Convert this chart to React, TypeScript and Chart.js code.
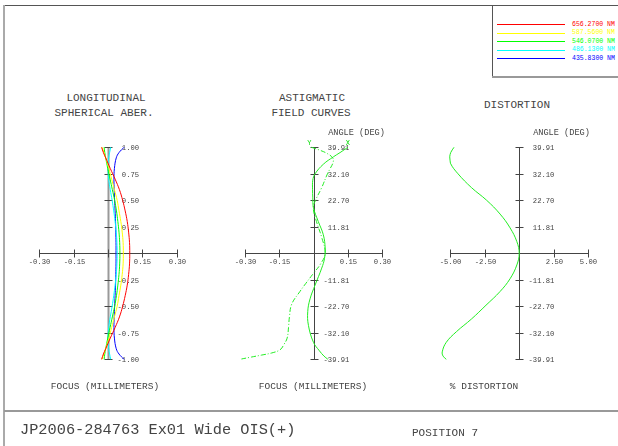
import React, { useEffect, useRef } from "react";
import { Chart, registerables } from "chart.js";
Chart.register(...registerables);

// ---------- data ----------
const wavelengthLabels = ["656.2700 NM", "587.5600 NM", "546.0700 NM", "486.1300 NM", "435.8300 NM"];
const wavelengthColors = ["#ff0000", "#ffff00", "#00ff00", "#00ffff", "#0000ff"];

// Longitudinal spherical aberration (relative pupil zone -> focus shift, mm)
const pupilZones = [0, 0.1, 0.2, 0.3, 0.4, 0.5, 0.6, 0.7, 0.8, 0.9, 0.95, 1.0];
const lsaRed = [0.095, 0.094, 0.09, 0.084, 0.075, 0.064, 0.05, 0.031, 0.01, -0.01, -0.02, -0.028];
const lsaYellow = [0.067, 0.066, 0.062, 0.056, 0.048, 0.04, 0.028, 0.016, 0.004, -0.01, -0.018, -0.025];
const lsaGreen = [0.052, 0.051, 0.048, 0.043, 0.037, 0.029, 0.019, 0.009, -0.001, -0.01, -0.014, -0.017];
const lsaCyan = [0.04, 0.039, 0.036, 0.031, 0.025, 0.018, 0.01, 0.003, 0.0, 0.003, 0.007, 0.012];
const lsaBlue = [0.035, 0.035, 0.034, 0.033, 0.031, 0.029, 0.027, 0.026, 0.028, 0.036, 0.048, 0.07];

// Astigmatic field curves (relative field -> focus, mm)
const fieldX = [1.0, 0.95, 0.91, 0.84, 0.75, 0.69, 0.6, 0.53, 0.43, 0.3, 0.175, 0.05, -0.05, -0.14, -0.3, -0.43, -0.55, -0.68, -0.84, -0.92, -0.97, -1.0];
const curveX = [0.149, 0.115, 0.086, 0.042, 0.006, -0.004, -0.005, -0.004, -0.001, 0.02, 0.042, 0.05, 0.047, 0.035, 0.006, -0.016, -0.026, -0.023, -0.001, 0.025, 0.045, 0.062];
const fieldY = [1.0, 0.97, 0.94, 0.9, 0.86, 0.8, 0.75, 0.62, 0.5, 0.43, 0.3, 0.15, 0.0, -0.1, -0.2, -0.3, -0.36, -0.48, -0.6, -0.7, -0.8, -0.86, -0.91, -0.94, -0.96, -0.98, -1.0];
const curveY = [-0.01, 0.03, 0.06, 0.083, 0.085, 0.072, 0.06, 0.035, 0.008, -0.002, 0.012, 0.035, 0.05, 0.03, -0.005, -0.04, -0.06, -0.096, -0.106, -0.11, -0.116, -0.13, -0.147, -0.183, -0.227, -0.275, -0.322];

// Distortion (relative field -> % distortion)
const distFields = [1.0, 0.95, 0.91, 0.85, 0.75, 0.62, 0.5, 0.37, 0.24, 0.11, 0, -0.11, -0.24, -0.36, -0.49, -0.62, -0.74, -0.84, -0.93, -0.97, -1.0];
const distValues = [-4.71, -4.95, -5.02, -4.97, -4.42, -3.45, -2.35, -1.38, -0.66, -0.17, 0, -0.17, -0.66, -1.38, -2.4, -3.45, -4.54, -5.27, -5.56, -5.5, -5.27];

// ticks
const focusTicks = [-0.3, -0.15, 0, 0.15, 0.3];
const focusTickLabels = ["-0.30", "-0.15", "", "0.15", "0.30"];
const distTicks = [-5, -2.5, 0, 2.5, 5];
const distTickLabels = ["-5.00", "-2.50", "", "2.50", "5.00"];
const relTicks = [1, 0.75, 0.5, 0.25, -0.25, -0.5, -0.75, -1];
const pupilTickLabels = ["1.00", "0.75", "0.50", "0.25", "-0.25", "-0.50", "-0.75", "-1.00"];
const angleTickLabels = ["39.91", "32.10", "22.70", "11.81", "-11.81", "-22.70", "-32.10", "-39.91"];

const MONO = '"Liberation Mono", "DejaVu Sans Mono", monospace';
const TXT = "#444";

// ---------- plugin: zemax style crossing axes ----------
const zAxesPlugin = {
  id: "zaxes",
  beforeDatasetsDraw(chart: any, _a: any, opts: any) {
    const ctx = chart.ctx;
    const xs = chart.scales.x;
    const ys = chart.scales.y;
    const x0 = Math.round(xs.getPixelForValue(0)) + 0.5;
    const y0 = Math.round(ys.getPixelForValue(0)) + 0.5;
    ctx.save();
    ctx.strokeStyle = "#444";
    ctx.lineWidth = 1;
    const xl = Math.round(xs.getPixelForValue(opts.xTicks[0])) + 0.5;
    const xr = Math.round(xs.getPixelForValue(opts.xTicks[opts.xTicks.length - 1])) + 0.5;
    ctx.beginPath();
    ctx.moveTo(xl, y0);
    ctx.lineTo(xr, y0);
    ctx.stroke();
    const yt = Math.round(ys.getPixelForValue(1)) + 0.5;
    const yb = Math.round(ys.getPixelForValue(-1)) + 0.5;
    ctx.save();
    ctx.strokeStyle = opts.vColor || "#444";
    ctx.lineWidth = opts.vWidth || 1;
    ctx.beginPath();
    ctx.moveTo(x0, yt);
    ctx.lineTo(x0, yb);
    ctx.stroke();
    ctx.restore();
    ctx.font = "7.2px " + MONO;
    ctx.fillStyle = TXT;
    ctx.textAlign = "center";
    ctx.textBaseline = "middle";
    opts.xTicks.forEach((t: number, i: number) => {
      const px = Math.round(xs.getPixelForValue(t)) + 0.5;
      ctx.beginPath();
      ctx.moveTo(px, y0 - 4);
      ctx.lineTo(px, y0 + 4);
      ctx.stroke();
      if (opts.xLabels[i]) ctx.fillText(opts.xLabels[i], px, y0 + 9);
    });
    ctx.textAlign = "left";
    opts.yTicks.forEach((t: number, i: number) => {
      const py = Math.round(ys.getPixelForValue(t)) + 0.5;
      ctx.beginPath();
      ctx.moveTo(x0 - 4, py);
      ctx.lineTo(x0 + 4, py);
      ctx.stroke();
      const lab: string = opts.yLabels[i];
      const txt = lab.startsWith("-") ? lab : " " + lab;
      ctx.fillText(txt, x0 + 9, py + 0.5);
    });
    if (opts.yTitle) {
      ctx.font = "8.6px " + MONO;
      ctx.textAlign = "center";
      ctx.fillText(opts.yTitle, x0 + 42, yt - 15);
    }
    if (opts.curveTags) {
      ctx.font = "7px " + MONO;
      ctx.fillStyle = "#00dd00";
      opts.curveTags.forEach((tg: any) => {
        ctx.fillText(tg.text, xs.getPixelForValue(tg.x) + tg.dx, ys.getPixelForValue(tg.y) - 4);
      });
    }
    ctx.restore();
  },
};

function pts(ys: number[], xs: number[]) {
  return ys.map((y, i) => ({ x: xs[i], y }));
}
function mirrored(zones: number[], vals: number[]) {
  const out: { x: number; y: number }[] = [];
  for (let i = zones.length - 1; i >= 0; i--) out.push({ x: vals[i], y: -zones[i] });
  for (let i = 1; i < zones.length; i++) out.push({ x: vals[i], y: zones[i] });
  return out;
}

const W = 618;
const H = 446;

function makeConfig(area: { l: number; r: number; t: number; b: number }, xmin: number, xmax: number, datasets: any[], axes: any) {
  return {
    type: "scatter" as const,
    data: { datasets },
    options: {
      responsive: false,
      animation: false as const,
      devicePixelRatio: 1,
      events: [],
      layout: { padding: { left: area.l, right: W - area.r, top: area.t, bottom: H - area.b } },
      scales: {
        x: { type: "linear" as const, min: xmin, max: xmax, display: false },
        y: { type: "linear" as const, min: -1, max: 1, display: false },
      },
      elements: { point: { radius: 0 }, line: { borderWidth: 1, tension: 0.4 } },
      plugins: { legend: { display: false }, tooltip: { enabled: false }, zaxes: axes },
    },
    plugins: [zAxesPlugin],
  };
}

function ChartCanvas({ config }: { config: any }) {
  const ref = useRef<HTMLCanvasElement>(null);
  useEffect(() => {
    const c = new Chart(ref.current as HTMLCanvasElement, config);
    return () => c.destroy();
  }, []);
  return <canvas ref={ref} width={W} height={H} style={{ position: "absolute", left: 0, top: 0, width: W, height: H }} />;
}

const lsaSeries = [lsaRed, lsaYellow, lsaGreen, lsaCyan, lsaBlue];

const cfg1 = makeConfig(
  { l: 39.3, r: 176.7, t: 147.3, b: 359.3 },
  -0.3,
  0.3,
  lsaSeries.map((s, i) => ({
    data: mirrored(pupilZones, s),
    showLine: true,
    borderColor: wavelengthColors[i],
    borderWidth: 1,
    clip: false,
  })),
  { xTicks: focusTicks, xLabels: focusTickLabels, yTicks: relTicks, yLabels: pupilTickLabels, vColor: "#999", vWidth: 2 }
);

const cfg2 = makeConfig(
  { l: 245, r: 382.4, t: 147.3, b: 359.3 },
  -0.3,
  0.3,
  [
    { data: pts(fieldX, curveX), showLine: true, borderColor: "#22ee22", borderWidth: 1, clip: false },
    { data: pts(fieldY, curveY), showLine: true, borderColor: "#22ee22", borderWidth: 1, borderDash: [5, 2, 1, 2], clip: false },
  ],
  {
    xTicks: focusTicks,
    xLabels: focusTickLabels,
    yTicks: relTicks,
    yLabels: angleTickLabels,
    yTitle: "ANGLE (DEG)",
    curveTags: [
      { text: "X", x: curveX[0], y: 1, dx: 0 },
      { text: "Y", x: curveY[0], y: 1, dx: -2 },
    ],
  }
);

const cfg3 = makeConfig(
  { l: 450, r: 588.4, t: 147.3, b: 359.3 },
  -5,
  5,
  [{ data: pts(distFields, distValues), showLine: true, borderColor: "#22ee22", borderWidth: 1, clip: false }],
  { xTicks: distTicks, xLabels: distTickLabels, yTicks: relTicks, yLabels: angleTickLabels, yTitle: "ANGLE (DEG)" }
);

function Txt({ x, y, size, children, align = "center", color = TXT }: any) {
  return (
    <div
      style={{
        position: "absolute",
        left: x,
        top: y,
        transform: align === "center" ? "translate(-50%, -50%)" : "translate(0, -50%)",
        font: `${size}px ${MONO}`,
        color,
        whiteSpace: "pre",
        lineHeight: 1,
      }}
    >
      {children}
    </div>
  );
}

export default function App() {
  return (
    <div style={{ position: "fixed", left: 0, top: 0, width: W, height: H, background: "#fff", overflow: "hidden" }}>
      {/* frame */}
      <div style={{ position: "absolute", left: 4, top: 5, width: W - 4, height: 1, background: "#555" }} />
      <div style={{ position: "absolute", left: 3, top: 5, width: 2, height: H - 5, background: "#aaa" }} />
      <div style={{ position: "absolute", left: 4, top: 410, width: W - 4, height: 2, background: "#999" }} />
      <div style={{ position: "absolute", left: 492, top: 5, width: 1, height: 72, background: "#555" }} />
      <div style={{ position: "absolute", left: 492, top: 76, width: W - 492, height: 2, background: "#999" }} />

      {/* legend */}
      {wavelengthLabels.map((lab, i) => (
        <React.Fragment key={lab}>
          <div style={{ position: "absolute", left: 497, top: 24 + i * 8.6, width: 68, height: 1, background: wavelengthColors[i] }} />
          <Txt x={572} y={24.5 + i * 8.6} size={6.5} align="left" color={wavelengthColors[i]}>
            {lab}
          </Txt>
        </React.Fragment>
      ))}

      {/* titles */}
      <Txt x={106} y={98} size={11}>LONGITUDINAL</Txt>
      <Txt x={104} y={113} size={11}>SPHERICAL ABER.</Txt>
      <Txt x={312} y={98} size={11}>ASTIGMATIC</Txt>
      <Txt x={311} y={113} size={11}>FIELD CURVES</Txt>
      <Txt x={517} y={105} size={11}>DISTORTION</Txt>

      <ChartCanvas config={cfg1} />
      <ChartCanvas config={cfg2} />
      <ChartCanvas config={cfg3} />

      {/* axis titles */}
      <Txt x={105} y={387} size={9.5}>FOCUS (MILLIMETERS)</Txt>
      <Txt x={313} y={387} size={9.5}>FOCUS (MILLIMETERS)</Txt>
      <Txt x={484} y={387} size={9.5}>% DISTORTION</Txt>

      {/* footer */}
      <Txt x={20} y={431} size={15.3} align="left">JP2006-284763 Ex01 Wide OIS(+)</Txt>
      <Txt x={412} y={433} size={11} align="left">POSITION 7</Txt>
    </div>
  );
}
